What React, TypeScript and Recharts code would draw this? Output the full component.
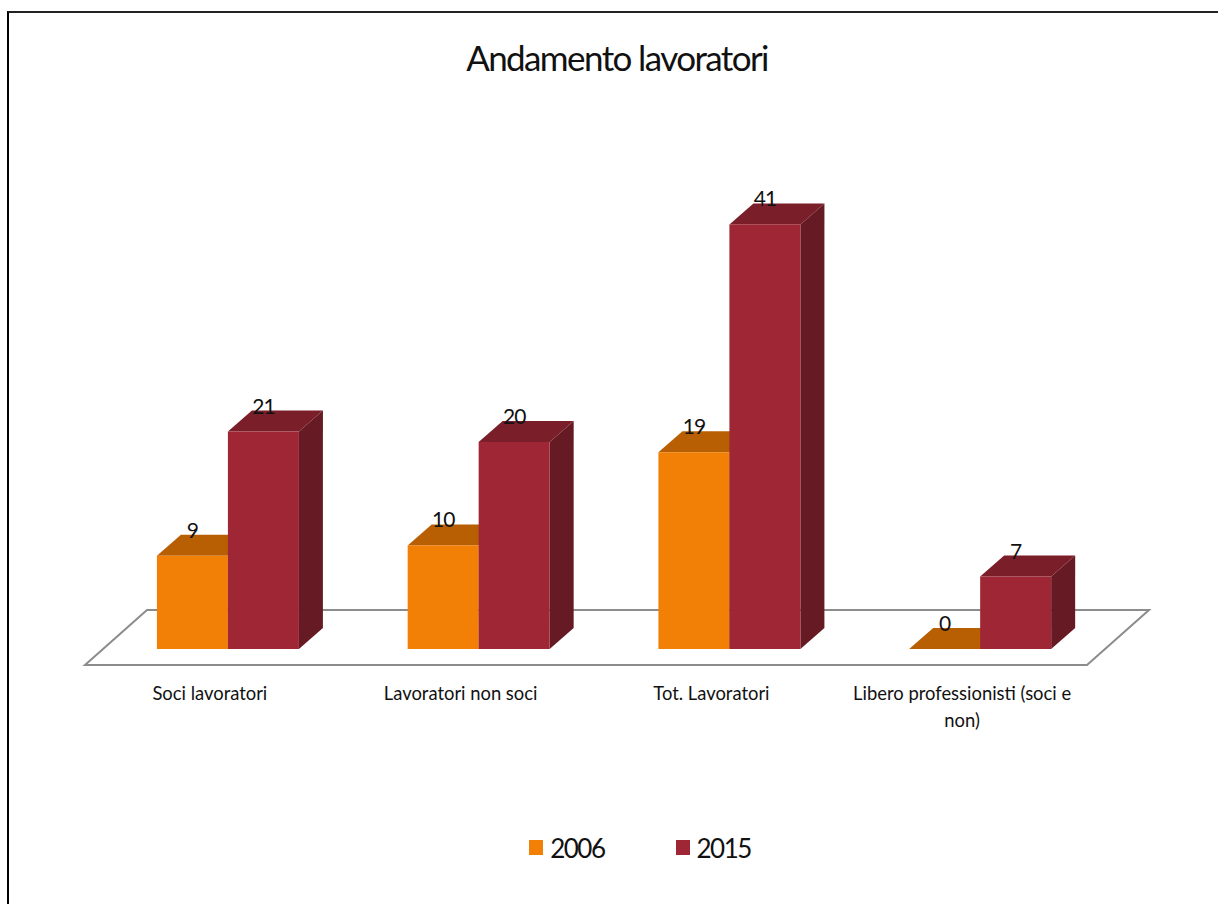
import { BarChart, Bar, XAxis, YAxis, Legend, LabelList, usePlotArea } from "recharts";

const categories = ["Soci lavoratori", "Lavoratori non soci", "Tot. Lavoratori", "Libero professionisti (soci e\nnon)"];
const values2006 = [9, 10, 19, 0];
const values2015 = [21, 20, 41, 7];

const data = categories.map((name, i) => ({
  name,
  y2006: values2006[i],
  y2015: values2015[i],
}));

const FONT = "Lato, sans-serif";
const DEPTH_X = 24;
const DEPTH_Y = 21;

const Box = (props: any) => {
  const { x, y, width, height, front, top, side } = props;
  const r = x + width;
  const b = y + height;
  return (
    <g>
      <path d={`M${r},${b} L${r + DEPTH_X},${b - DEPTH_Y} L${r + DEPTH_X},${y - DEPTH_Y} L${r},${y} Z`} fill={side} />
      <path d={`M${x},${y} L${x + DEPTH_X},${y - DEPTH_Y} L${r + DEPTH_X},${y - DEPTH_Y} L${r},${y} Z`} fill={top} />
      <rect x={x} y={y} width={width} height={height} fill={front} />
    </g>
  );
};

// floor of the 3d plot, behind the bars
const Floor = () => {
  const plot = usePlotArea();
  if (!plot) return null;
  const left = plot.x - 18;
  const right = plot.x + plot.width - 19;
  const front = plot.y + plot.height + 16;
  const back = plot.y + plot.height - 39;
  return (
    <path
      d={`M${left},${front} L${right},${front} L${right + 62},${back} L${left + 62},${back} Z`}
      fill="#fff"
      stroke="#8c8c8c"
      strokeWidth={2}
    />
  );
};

const CategoryTick = ({ x, y, payload }: any) => (
  <text textAnchor="middle" fontFamily={FONT} fontSize={18.4} fill="#111">
    {String(payload.value).split("\n").map((line, i) => (
      <tspan key={line} x={x - 18.5} y={y + 42.5 + i * 27}>
        {line}
      </tspan>
    ))}
  </text>
);

const ValueLabel = ({ x, y, width, value }: any) => (
  <text
    x={x + width / 2}
    y={y - 18}
    textAnchor="middle"
    fontFamily={FONT}
    fontSize={21}
    letterSpacing={-1}
    fill="#111"
  >
    {value}
  </text>
);

const LegendContent = ({ payload }: any) => (
  <div
    style={{
      display: "flex",
      justifyContent: "center",
      gap: 71,
      height: 35,
      paddingLeft: 62,
      fontFamily: FONT,
      fontSize: 26,
      letterSpacing: -1.5,
      color: "#111",
    }}
  >
    {(payload || []).map((item: any) => (
      <div key={item.value} style={{ display: "flex", alignItems: "center", gap: 7 }}>
        <span style={{ width: 14, height: 15, background: item.color, display: "block" }} />
        <span>{item.value}</span>
      </div>
    ))}
  </div>
);

export default function App() {
  return (
    <div style={{ position: "absolute", left: 0, top: 0, width: 1218, height: 904, overflow: "hidden", background: "#fff" }}>
      <div
        style={{
          position: "absolute",
          left: 7,
          top: 11,
          width: 1300,
          height: 1000,
          borderLeft: "2px solid #000",
          borderTop: "2px solid #222",
        }}
      />
      <div
        style={{
          position: "absolute",
          left: 0,
          width: 1234,
          top: 36,
          textAlign: "center",
          fontFamily: FONT,
          fontSize: 35,
          letterSpacing: -1.6,
          color: "#111",
        }}
      >
        Andamento lavoratori
      </div>
      <BarChart
        width={1218}
        height={904}
        data={data}
        margin={{ top: 183, right: 112, bottom: 0, left: 103 }}
        barCategoryGap="21.5%"
        barGap={0}
        style={{ position: "absolute", left: 0, top: 0 }}
      >
        <Floor />
        <XAxis
          dataKey="name"
          height={220}
          axisLine={false}
          tickLine={false}
          interval={0}
          tick={<CategoryTick />}
        />
        <YAxis hide domain={[0, 45]} />
        <Legend
          verticalAlign="bottom"
          content={<LegendContent />}
          wrapperStyle={{ left: 0, width: 1218, top: 830, bottom: "auto" }}
        />
        <Bar
          dataKey="y2006"
          name="2006"
          fill="#f28006"
          isAnimationActive={false}
          shape={<Box front="#f28006" top="#b85f04" side="#b85f04" />}
        >
          <LabelList dataKey="y2006" content={<ValueLabel />} />
        </Bar>
        <Bar
          dataKey="y2015"
          name="2015"
          fill="#9e2635"
          isAnimationActive={false}
          shape={<Box front="#9e2635" top="#7a1f2a" side="#661a23" />}
        >
          <LabelList dataKey="y2015" content={<ValueLabel />} />
        </Bar>
      </BarChart>
    </div>
  );
}
